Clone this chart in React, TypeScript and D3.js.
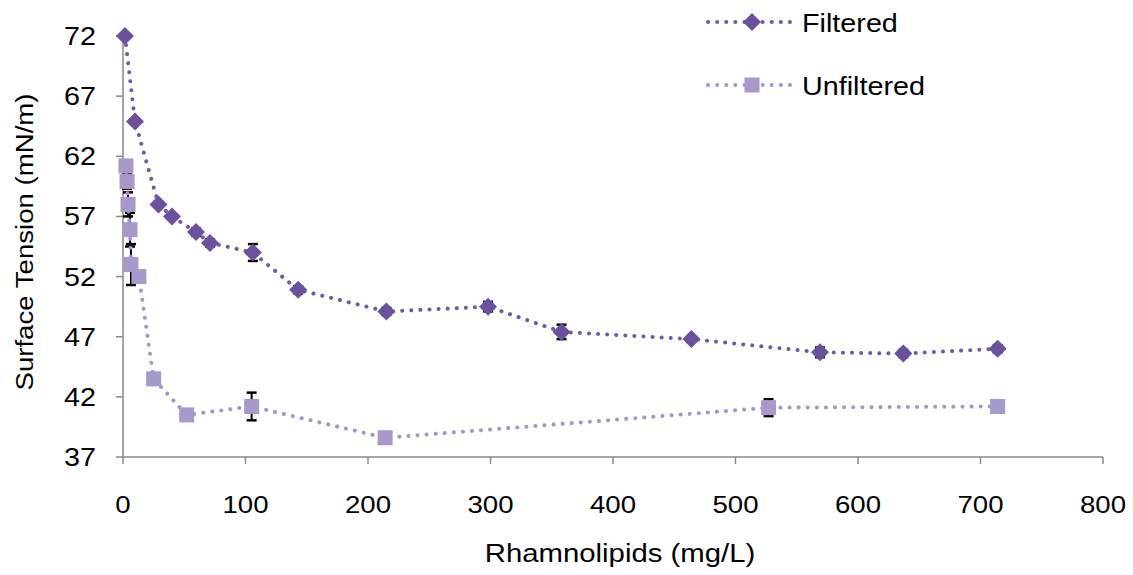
import React from "react";
import * as d3 from "d3";

const filteredX = [1.6, 9.8, 29, 40, 59.6, 71, 106, 143, 215, 298, 358, 464, 569, 637, 714];
const filteredY = [72, 64.9, 58.0, 57.0, 55.7, 54.8, 54.0, 50.9, 49.1, 49.5, 47.4, 46.8, 45.7, 45.6, 46.0];
const filteredErr = [0, 0, 0.2, 0.2, 0.3, 0.3, 0.7, 0.3, 0.3, 0.4, 0.6, 0.2, 0.4, 0.3, 0.3];

const unfilteredX = [2.4, 3.3, 4.1, 5.7, 6.5, 13, 25, 52, 105, 214, 527, 714];
const unfilteredY = [61.2, 59.9, 58.0, 55.9, 53.0, 52.0, 43.5, 40.5, 41.2, 38.6, 41.1, 41.2];
const unfilteredErr = [0.3, 0.6, 1.0, 1.4, 1.7, 0.3, 0.2, 0.2, 1.15, 0.3, 0.7, 0.2];

const xTicks = [0, 100, 200, 300, 400, 500, 600, 700, 800];
const yTicks = [37, 42, 47, 52, 57, 62, 67, 72];

const seriesNames = ["Filtered", "Unfiltered"];
const xTitle = "Rhamnolipids (mg/L)";
const yTitle = "Surface Tension (mN/m)";

const FONT = "'Liberation Sans', Arial, sans-serif";
const AXIS = "#898989";
const DARK = "#6B509E";
const DARK_LINE = "#6E5BA3";
const LIGHT = "#A899CB";
const LIGHT_LINE = "#A395C8";
const SX = 1.15;

export default function App() {
  const x = d3.scaleLinear().domain([0, 800]).range([123, 1103]);
  const y = d3.scaleLinear().domain([37, 72]).range([457, 36]);

  const filtered = filteredX.map((v, i) => ({ x: v, y: filteredY[i], e: filteredErr[i] }));
  const unfiltered = unfilteredX.map((v, i) => ({ x: v, y: unfilteredY[i], e: unfilteredErr[i] }));

  const line = d3
    .line<{ x: number; y: number }>()
    .x((d) => x(d.x))
    .y((d) => y(d.y));

  const diamond = (cx: number, cy: number, h = 9) =>
    `M${cx},${cy - h}L${cx + h},${cy}L${cx},${cy + h}L${cx - h},${cy}Z`;

  const errBars = (data: { x: number; y: number; e: number }[], key: string) =>
    data
      .filter((d) => d.e > 0)
      .map((d, i) => {
        const cx = x(d.x);
        const y1 = y(d.y + d.e);
        const y2 = y(d.y - d.e);
        return (
          <g key={key + i} stroke="#000" strokeWidth={2}>
            <line x1={cx} x2={cx} y1={y1} y2={y2} />
            <line x1={cx - 5} x2={cx + 5} y1={y1} y2={y1} strokeWidth={2.5} />
            <line x1={cx - 5} x2={cx + 5} y1={y2} y2={y2} strokeWidth={2.5} />
          </g>
        );
      });

  const dotted = { strokeDasharray: "0.1 9", strokeLinecap: "round" as const, strokeWidth: 4, fill: "none" };

  const sText = (
    x0: number,
    y0: number,
    txt: string,
    anchor: "start" | "middle" | "end",
    size: number,
    extra = ""
  ) => (
    <text
      transform={`translate(${x0},${y0})${extra} scale(${SX},1)`}
      textAnchor={anchor}
      fontFamily={FONT}
      fontSize={size}
      fill="#000"
    >
      {txt}
    </text>
  );

  return (
    <svg
      width={1133}
      height={575}
      style={{ position: "absolute", left: 0, top: 0, background: "#fff" }}
    >
      {/* axes */}
      <line x1={x(0)} x2={x(0)} y1={y(72)} y2={y(37)} stroke={AXIS} strokeWidth={1.5} />
      <line x1={x(0)} x2={x(800)} y1={y(37)} y2={y(37)} stroke={AXIS} strokeWidth={1.5} />
      {yTicks.map((t) => (
        <g key={"yt" + t}>
          <line x1={x(0) - 7} x2={x(0)} y1={y(t)} y2={y(t)} stroke={AXIS} strokeWidth={1.5} />
          {sText(96, y(t) + 9, String(t), "end", 25)}
        </g>
      ))}
      {xTicks.map((t) => (
        <g key={"xt" + t}>
          <line x1={x(t)} x2={x(t)} y1={y(37)} y2={y(37) + 7} stroke={AXIS} strokeWidth={1.5} />
          {sText(x(t), 513, String(t), "middle", 24)}
        </g>
      ))}
      {sText(620, 562, xTitle, "middle", 25.5)}
      {sText(33, 242, yTitle, "middle", 24, " rotate(-90)")}

      {/* unfiltered */}
      {errBars(unfiltered, "ue")}
      <path d={line(unfiltered) || ""} stroke={LIGHT_LINE} {...dotted} />
      {unfiltered.map((d, i) => (
        <rect key={"us" + i} x={x(d.x) - 7.5} y={y(d.y) - 7.5} width={15} height={15} fill={LIGHT} />
      ))}

      {/* filtered */}
      {errBars(filtered, "fe")}
      <path d={line(filtered) || ""} stroke={DARK_LINE} {...dotted} />
      {filtered.map((d, i) => (
        <path key={"fd" + i} d={diamond(x(d.x), y(d.y))} fill={DARK} />
      ))}

      {/* legend */}
      <line x1={708} x2={790} y1={22} y2={22} stroke={DARK_LINE} {...dotted} />
      <path d={diamond(752, 22)} fill={DARK} />
      {sText(802, 32, seriesNames[0], "start", 25)}
      <line x1={708} x2={790} y1={85} y2={85} stroke={LIGHT_LINE} {...dotted} />
      <rect x={744.5} y={77.5} width={15} height={15} fill={LIGHT} />
      {sText(802, 95, seriesNames[1], "start", 25)}
    </svg>
  );
}
